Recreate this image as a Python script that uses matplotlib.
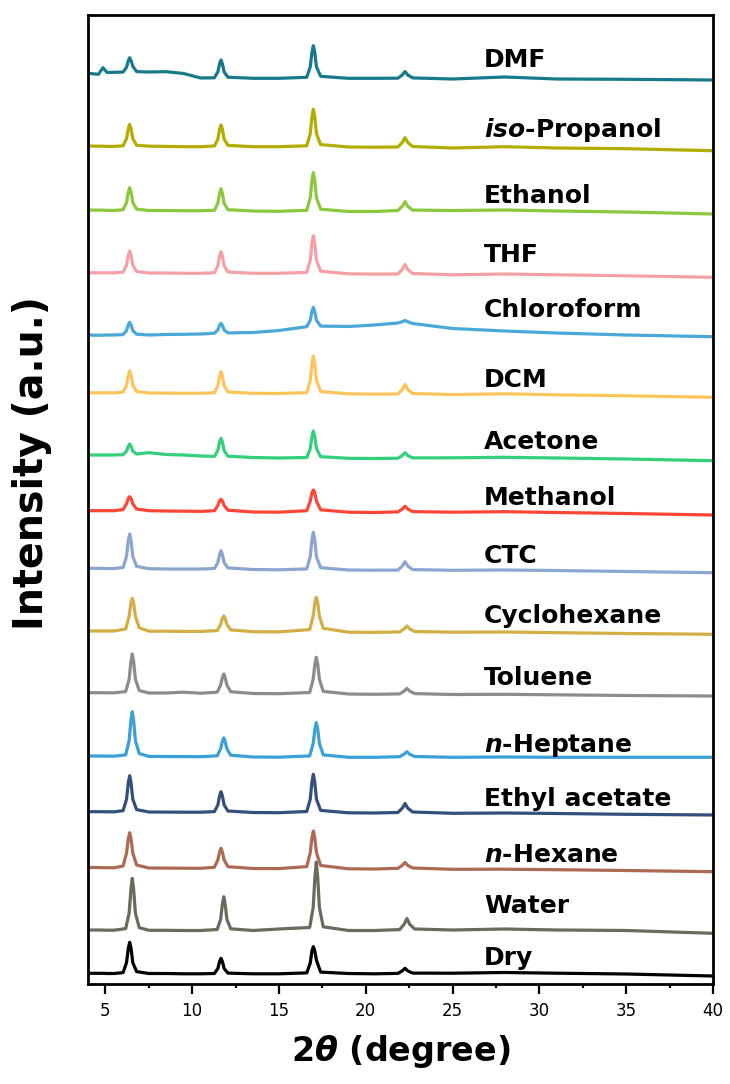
import numpy as np
import matplotlib
matplotlib.use("Agg")
import matplotlib.pyplot as plt
from matplotlib.ticker import MultipleLocator

# 2theta sampling (deg) for the two peak groups
two_theta_a = [4.0, 4.6, 4.86, 5.1, 5.5, 6.02, 6.22, 6.32, 6.40, 6.48, 6.58, 6.8,
               7.5, 8.5, 9.5, 10.5, 11.28, 11.48, 11.58, 11.66, 11.74, 11.84, 12.06,
               13.5, 15.0, 16.6, 16.8, 16.9, 16.98, 17.06, 17.16, 17.4,
               19.0, 20.5, 21.85, 22.1, 22.26, 22.42, 22.7, 25.0, 28.0, 31.0, 35.0, 40.0]
two_theta_b = [4.0, 4.6, 4.86, 5.1, 5.5, 6.17, 6.37, 6.47, 6.55, 6.63, 6.73, 6.95,
               7.5, 8.5, 9.5, 10.5, 11.44, 11.64, 11.74, 11.82, 11.90, 12.0, 12.22,
               13.5, 15.0, 16.77, 16.97, 17.07, 17.15, 17.23, 17.33, 17.55,
               19.0, 20.5, 21.95, 22.21, 22.37, 22.53, 22.81, 25.0, 28.0, 31.0, 35.0, 40.0]

# intensities (a.u.), relative to each pattern's own baseline
dmf = [5, 4, 10.6, 5.8, 6, 6.2, 11.0, 17.6, 20.6, 17.6, 12, 6.7, 6.3, 6.6, 4.8, 0.3,
       0.5, 6.4, 14.6, 18.3, 14.6, 6.4, 1.1, 0, 0, 1.0, 11.4, 26.1, 32.6, 26.1, 11.4, 2.0,
       0, 0, 0.1, 3.3, 6.8, 3.3, 0.4, -0.7, 1.3, -0.7, -1, -1.7]
iso_propanol = [0.7, 0.5, 0.5, 0.3, 0.3, 0.9, 8.0, 18.0, 22.4, 18.0, 8.0, 1.5, 0.5, 0.3, 0, 0,
                0.7, 7.6, 17.4, 21.7, 17.4, 7.6, 1.3, 0, 0, 0.9, 13.0, 30.0, 37.5, 30.0, 13.0, 2.1,
                -0.3, -0.5, -0.3, 4.1, 9.0, 4.1, 0.2, -1.3, 0, -1.3, -2, -4]
ethanol = [1, 0.8, 0.8, 0.6, 0.6, 1.2, 8.5, 18.7, 23.3, 18.7, 8.5, 1.9, 0.5, 0.5, 0.3, 0.3,
           0.7, 7.8, 17.8, 22.3, 17.8, 7.8, 1.3, 0, -0.3, 0.7, 13.1, 30.5, 38.3, 30.5, 13.1, 1.8,
           -0.5, -0.5, 0.5, 4.7, 9.3, 4.7, 0.9, 0.5, 1, 0, -1, -3]
thf = [0.6, 0.5, 0.5, 0.5, 0.5, 1.2, 8.1, 17.9, 22.3, 17.9, 8.1, 1.8, 0.3, 0.3, 0, 0,
       0.6, 7.6, 17.3, 21.6, 17.3, 7.6, 1.3, 0, 0, 0.9, 13.0, 30.0, 37.6, 30.0, 13.0, 2.1,
       -0.5, -0.8, -0.7, 3.8, 8.8, 3.8, -0.2, -1.5, -0.7, -1.5, -2.5, -4]
chloroform = [-1, -1.3, -1.2, -1, -1, -0.6, 3.4, 9.2, 11.7, 9.2, 3.4, -0.2, -1, -0.5, -0.3, 0,
              0.8, 4.1, 8.7, 10.7, 8.7, 4.1, 1.1, 1.5, 3.5, 7.3, 13.7, 22.7, 26.7, 22.7, 13.7, 7.9,
              7.5, 9, 11, 12.3, 13.5, 12.3, 10.5, 5.5, 3, 1, -1, -2.7]
dcm = [0.6, 0.5, 0.5, 0.5, 0.4, 1.2, 8.1, 17.9, 22.3, 17.9, 8.1, 1.8, 0.3, 0.2, 0, 0,
       0.6, 7.6, 17.3, 21.6, 17.3, 7.6, 1.3, 0, -0.2, 0.6, 12.7, 29.7, 37.3, 29.7, 12.7, 1.8,
       -0.5, -0.8, -0.7, 3.8, 8.8, 3.8, -0.2, -1.3, -0.5, -1.5, -2.5, -4]
acetone = [2.5, 2.5, 2.5, 2.5, 2.5, 2.8, 6.4, 11.3, 13.5, 11.3, 6.4, 3.5, 4.8, 3, 2.5, 1.5,
           1.1, 7.0, 15.5, 19.2, 15.5, 7.0, 1.3, 0, -0.5, 0, 8.8, 21.0, 26.5, 21.0, 8.8, 0.8,
           -0.8, -1, -0.7, 1.9, 4.8, 1.9, -0.4, -0.3, 0.2, -0.5, -1.5, -3.2]
methanol = [1, 1, 1, 1, 1, 2.1, 8, 13.3, 15, 13.3, 8, 2.7, 1, 0.7, 0.5, 0.3,
            1, 6.2, 10.9, 12.4, 10.9, 6.2, 1.5, -0.3, -0.5, 1.0, 10.5, 19.0, 21.7, 19.0, 10.5, 1.9,
            -0.5, -0.8, -0.2, 2.6, 5.4, 2.6, 0.1, -0.5, 0, -0.8, -1.8, -3.3]
ctc = [1.2, 1.2, 1, 1, 1, 2.0, 13.1, 28.6, 35.5, 28.6, 13.1, 3.1, 0.8, 0.5, 0.5, 0.5,
       1.0, 6.9, 15.1, 18.8, 15.1, 6.9, 1.6, 0, -0.3, 0.6, 12.7, 29.7, 37.2, 29.7, 12.7, 1.8,
       -0.5, -0.7, -0.6, 3.4, 7.8, 3.4, -0.1, -0.8, -0.5, -1, -2, -3.2]
cyclohexane = [0.7, 0.7, 0.7, 0.7, 0.7, 2.7, 15.4, 28.5, 33.4, 28.5, 15.4, 4.0, 0.5, 0.5, 0.3, 0.3,
               1.1, 7.2, 13.4, 15.7, 13.4, 7.2, 1.8, 0, -0.2, 2.1, 15.5, 29.2, 34.4, 29.2, 15.5, 3.4,
               -0.5, -0.7, -0.2, 2.8, 5.7, 2.8, 0.2, -0.5, -0.3, -1, -1.8, -2.6]
toluene = [0.8, 0.8, 0.7, 0.7, 0.7, 1.9, 14.3, 31.7, 39.5, 31.7, 14.3, 3.0, 0.5, 0.5, 1.3, 0.3,
           1.3, 8.4, 16.0, 19.5, 16.0, 8.4, 1.8, 0, -0.2, 1.0, 14.2, 29.6, 36.2, 29.6, 14.2, 2.1,
           -0.5, -0.8, -0.4, 2.4, 5.2, 2.4, -0.1, -1, -0.8, -1.3, -2, -2.5]
n_heptane = [1, 1, 0.9, 0.9, 0.8, 2.1, 16.4, 36.4, 45.3, 36.4, 16.4, 3.5, 0.6, 0.5, 0.4, 0.3,
             1.2, 8.2, 15.7, 19.1, 15.7, 8.2, 1.8, 0, -0.2, 1.1, 13.5, 28.1, 34.3, 28.1, 13.5, 2.1,
             -0.3, -0.3, 0.3, 2.8, 5.3, 2.8, 0.5, -0.3, 0, -0.3, -0.3, -0.3]
ethyl_acetate = [0.8, 0.8, 0.8, 0.7, 0.7, 1.8, 13.3, 29.6, 36.8, 29.6, 13.3, 2.9, 0.5, 0.4, 0.3, 0.3,
                 0.9, 7.5, 16.7, 20.8, 16.7, 7.5, 1.5, 0, -0.2, 1.0, 13.2, 30.5, 38.2, 30.5, 13.2, 2.1,
                 -0.3, -0.5, 0, 4.3, 9.0, 4.3, 0.5, -0.8, -0.5, -1, -1.8, -2.5]
n_hexane = [1, 1, 0.8, 0.8, 0.7, 2.5, 15.4, 29.5, 35.8, 29.5, 15.4, 3.5, 0.5, 0.4, 0.3, 0.2,
            1.2, 8.6, 16.6, 20.2, 16.6, 8.6, 1.8, 0, -0.1, 1.9, 15.8, 30.8, 37.5, 30.8, 15.8, 3.0,
            -0.3, -0.5, 0.2, 3.1, 6.0, 3.1, 0.5, -0.8, -0.7, -1.2, -2, -3.2]
water = [0.5, 0.5, 0.4, 0.3, 0.3, 1.9, 17.4, 40.8, 52.2, 40.8, 17.4, 2.9, 0.2, 0.2, 0, 0,
         1.0, 11.2, 26.4, 33.8, 26.4, 11.2, 1.7, 0, 1.5, 3.0, 22.8, 53.5, 68.5, 53.5, 22.8, 3.7,
         0, 0, 0.9, 6.2, 12.0, 6.2, 1.5, 0.5, 1.5, 0.5, 0, -2.8]
dry = [0.2, 0.2, 0.2, 0, 0, 0.9, 10.9, 25.0, 31.2, 25.0, 10.9, 1.9, 0, 0, -0.3, -0.3,
       0, 5.0, 12.1, 15.2, 12.1, 5.0, 0.4, -0.3, -0.3, 0.6, 10.4, 22.7, 26.8, 22.7, 13.2, 1.4,
       0, -0.3, 0.1, 2.6, 5.2, 2.6, 0.4, 0.3, 1, 0.3, -0.5, -2.5]

# top to bottom
labels = ["DMF", r"$\it{iso}$-Propanol", "Ethanol", "THF", "Chloroform", "DCM", "Acetone",
          "Methanol", "CTC", "Cyclohexane", "Toluene", r"$\it{n}$-Heptane", "Ethyl acetate",
          r"$\it{n}$-Hexane", "Water", "Dry"]
patterns = [dmf, iso_propanol, ethanol, thf, chloroform, dcm, acetone, methanol, ctc,
            cyclohexane, toluene, n_heptane, ethyl_acetate, n_hexane, water, dry]
grids = [two_theta_a] * 9 + [two_theta_b] * 3 + [two_theta_a] * 2 + [two_theta_b, two_theta_a]
offsets = [905.7, 837.3, 773, 710.7, 650, 590.7, 526.5, 472.3, 414.5,
           352.3, 290.5, 227, 171.5, 115.5, 53.5, 10.5]
colors = ["#177a8b", "#b3ad00", "#8cc83c", "#f5a0a6", "#4aa8d8", "#fdc45c", "#33d07c",
          "#ff4536", "#8aa6cf", "#d2ae44", "#8c8c8c", "#3aa0d5", "#33507c", "#ad6a52",
          "#6a6b5d", "#000000"]

# label placement: text baseline height above each pattern
label_x = 26.8
label_gap = [11.6, 10, 8.3, 11.3, 17.3, 6, 8.2, 6.7, 6.8, 8.4, 8.5, 5.3, 6.5, 6.8, 17.2, 8.5]

plt.rcParams["font.family"] = "DejaVu Sans"
plt.rcParams["mathtext.fontset"] = "custom"
plt.rcParams["mathtext.it"] = "DejaVu Sans:italic:bold"
plt.rcParams["mathtext.rm"] = "DejaVu Sans:bold"
plt.rcParams["mathtext.bf"] = "DejaVu Sans:bold"

fig = plt.figure(figsize=(7.3, 10.84), dpi=100)
ax = fig.add_axes([88 / 730, 100 / 1084, 625 / 730, 969 / 1084])

for x, y, off, c in zip(grids, patterns, offsets, colors):
    ax.plot(x, np.array(y) + off, color=c, lw=2.3,
            solid_joinstyle="round", solid_capstyle="round")

for lab, off, gap in zip(labels, offsets, label_gap):
    ax.text(label_x, off + gap, lab, fontsize=18, fontweight="bold",
            ha="left", va="baseline")

ax.set_xlim(4, 40)
ax.set_ylim(0, 969)
ax.xaxis.set_major_locator(MultipleLocator(5))
ax.xaxis.set_minor_locator(MultipleLocator(2.5))
ax.set_yticks([])
ax.tick_params(axis="x", which="major", direction="out", length=7, width=1.6,
               labelsize=12, pad=6)
ax.tick_params(axis="x", which="minor", direction="out", length=3, width=1.6)
for s in ax.spines.values():
    s.set_linewidth(2)

ax.set_xlabel(r"2$\it{\theta}$ (degree)", fontsize=24, fontweight="bold", labelpad=9)
ax.set_ylabel("Intensity (a.u.)", fontsize=28.5, fontweight="bold")
ax.yaxis.set_label_coords(-0.058, 0.538)

fig.savefig("out.png", dpi=100)
